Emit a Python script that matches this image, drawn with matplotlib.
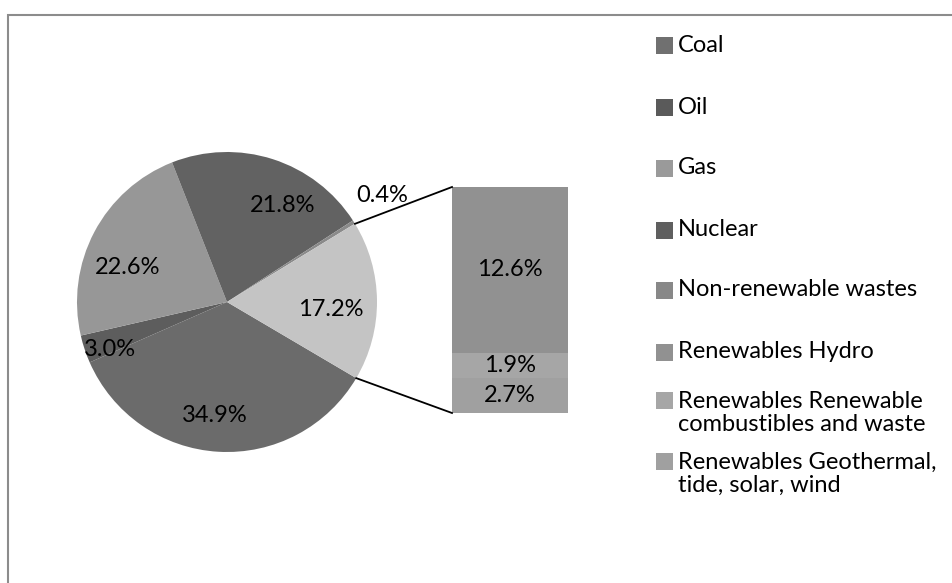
import numpy as np
import matplotlib.pyplot as plt
from matplotlib.patches import Rectangle

# datos del grafico (porcentajes)
pie_labels = ["Coal", "Oil", "Gas", "Nuclear", "Non-renewable wastes", "Other"]
pie_values = [34.9, 3.0, 22.6, 21.8, 0.4, 17.2]
pie_colors = ["#6b6b6b", "#5d5d5d", "#979797", "#626262", "#8a8a8a", "#c4c4c4"]

bar_labels = ["Renewables Hydro", "Renewables Renewable\ncombustibles and waste",
              "Renewables Geothermal,\ntide, solar, wind"]
bar_values = [12.6, 1.9, 2.7]
bar_colors = ["#919191", "#a6a6a6", "#a0a0a0"]

legend_labels = ["Coal", "Oil", "Gas", "Nuclear", "Non-renewable wastes"] + bar_labels
legend_colors = ["#707070", "#5a5a5a", "#9a9a9a", "#5f5f5f", "#888888"] + bar_colors

W, H = 952, 583
fig = plt.figure(figsize=(W / 100, H / 100), dpi=100)
ax = fig.add_axes([0, 0, 1, 1])

font = "Lato"
fs = 17

# pastel
cx, cy, R = 227, H - 302, 150
start = -30.5
wedges, _ = ax.pie(pie_values, colors=pie_colors, startangle=start, counterclock=False,
                   center=(cx, cy), radius=R, frame=True,
                   wedgeprops=dict(linewidth=0))
ax.set_xlim(0, W)
ax.set_ylim(0, H)
ax.set_aspect("equal")
ax.axis("off")

# marco del area del grafico
ax.add_patch(Rectangle((8, -10), W, H - 15 + 10, fill=False, edgecolor="#8c8c8c", lw=1.5))

pie_text_pos = [(215, 416), (110, 350), (128, 267), (283, 206), (382, 195), (331, 309)]
for v, (x, y) in zip(pie_values, pie_text_pos):
    ax.text(x, H - y, f"{v:.1f}%", ha="center", va="center", fontsize=fs, family=font)

# barra secundaria
bx, bw = 452, 116
btop, bbot = H - 187, H - 413
scale = (btop - bbot) / sum(bar_values)
top = btop
for v, c in zip(bar_values, bar_colors):
    h = v * scale
    ax.bar(bx + bw / 2, h, width=bw, bottom=top - h, color=c, linewidth=0)
    ax.text(bx + bw / 2, top - h / 2, f"{v:.1f}%", ha="center", va="center",
            fontsize=fs, family=font)
    top -= h

# lineas de conexion
a1 = np.radians(start + 360 * pie_values[-1] / 100)
a2 = np.radians(start)
ax.plot([cx + R * np.cos(a1), bx], [cy + R * np.sin(a1), btop], color="black", lw=1.3)
ax.plot([cx + R * np.cos(a2), bx], [cy + R * np.sin(a2), bbot], color="black", lw=1.3)

# leyenda
leg_y = [45, 107, 168, 230, 290, 352, 400, 461]
for lab, c, y in zip(legend_labels, legend_colors, leg_y):
    ax.add_patch(Rectangle((656, H - y - 8.5), 17, 17, color=c, lw=0))
    nlines = lab.count("\n") + 1
    yc = y + (nlines - 1) * 13
    ax.text(678, H - yc, lab, ha="left", va="center", fontsize=fs,
            family=font, linespacing=1.1)

fig.savefig("out.png", dpi=100)
